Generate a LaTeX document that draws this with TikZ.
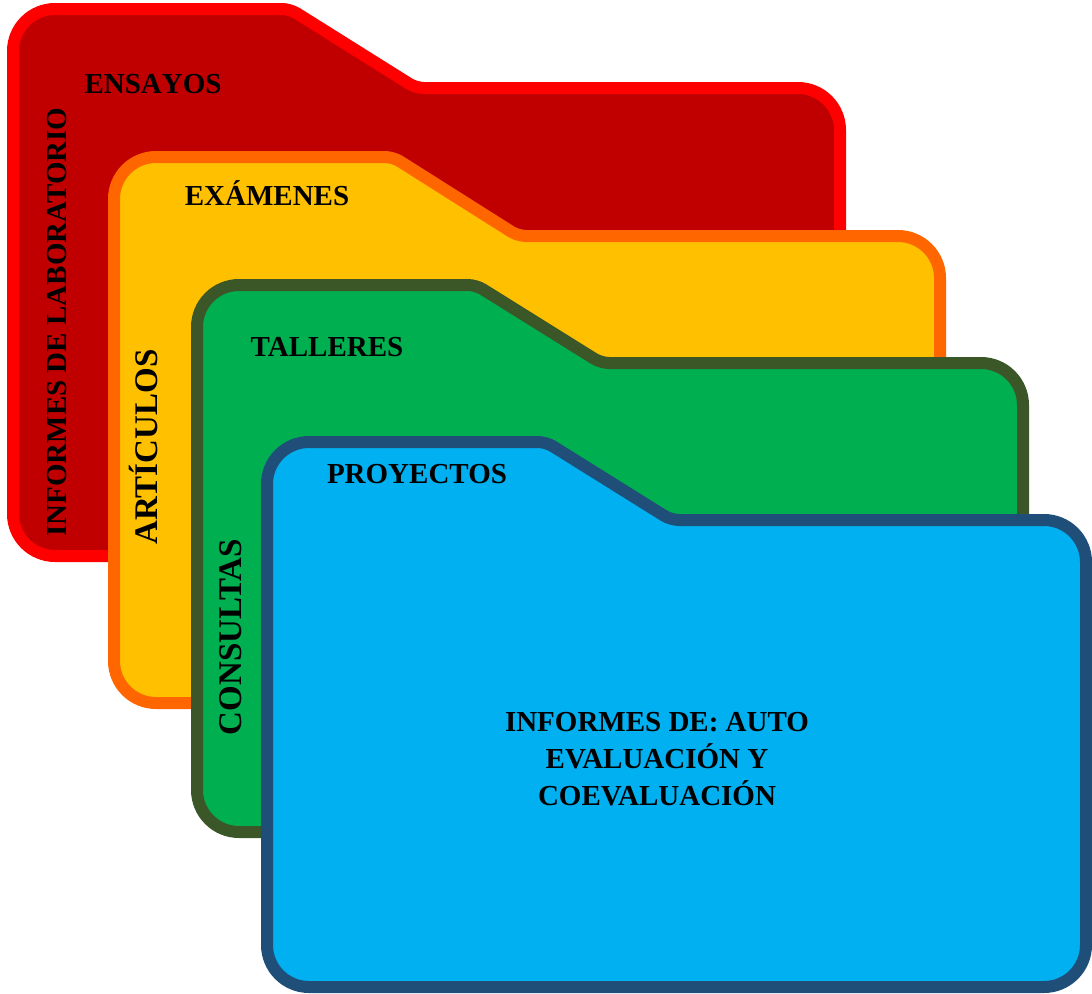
\documentclass[tikz,border=0pt]{standalone}
\usepackage{fontspec}
\setmainfont{Liberation Serif}
\definecolor{redfill}{HTML}{C00000}
\definecolor{redline}{HTML}{FF0000}
\definecolor{yelfill}{HTML}{FFC000}
\definecolor{yelline}{HTML}{FF6600}
\definecolor{grnfill}{HTML}{00B050}
\definecolor{grnline}{HTML}{3B5727}
\definecolor{blufill}{HTML}{00B0F0}
\definecolor{bluline}{HTML}{1F4E79}
\begin{document}
\begin{tikzpicture}[x=1pt,y=-1pt,
  folder/.style={line width=12pt,line join=round},
  lbl/.style={font=\fontsize{29}{37}\selectfont\bfseries,text=black,inner sep=0pt,align=center},
  biglbl/.style={lbl,font=\fontsize{33}{40}\selectfont\bfseries}]
\useasboundingbox (0,0) rectangle (1092,993);
% red folder
\draw[folder,fill=redfill,draw=redline]
  (13,300) [rounded corners=42pt] -- (13,9) [rounded corners=8pt] -- (290,9) -- (416,88) [rounded corners=42pt] -- (840,88) -- (840,556) -- (13,556) -- (13,300) -- cycle;
% yellow folder
\draw[folder,fill=yelfill,draw=yelline]
  (114,400) [rounded corners=42pt] -- (114,157) [rounded corners=8pt] -- (393,157) -- (518,236) [rounded corners=42pt] -- (940,236) -- (940,703) -- (114,703) -- (114,400) -- cycle;
% green folder
\draw[folder,fill=grnfill,draw=grnline]
  (197,500) [rounded corners=42pt] -- (197,285) [rounded corners=8pt] -- (476,285) -- (601,363) [rounded corners=42pt] -- (1023,363) -- (1023,832) -- (197,832) -- (197,500) -- cycle;
% blue folder
\draw[folder,fill=blufill,draw=bluline]
  (267,700) [rounded corners=42pt] -- (267,442) [rounded corners=8pt] -- (546,442) -- (671,520) [rounded corners=42pt] -- (1086,520) -- (1086,987) -- (267,987) -- (267,700) -- cycle;
% labels
\node[lbl] (ensayos) at (153,84) {\addfontfeature{Kerning=Off}ENSAYOS};
\node[lbl,rotate=90] (lab) at (57,322) {INFORMES DE LABORATORIO};
\node[lbl] (examenes) at (267,193) {EXÁMENES};
\node[biglbl,rotate=90] (articulos) at (144,447) {ARTÍCULOS};
\node[lbl] (talleres) at (327,347) {TALLERES};
\node[biglbl,rotate=90] (consultas) at (231,637) {CONSULTAS};
\node[lbl] (proyectos) at (417,474) {PROYECTOS};
\node[lbl] (auto) at (657,759) {INFORMES DE: AUTO\\EVALUACIÓN Y\\COEVALUACIÓN};
\end{tikzpicture}
\end{document}
